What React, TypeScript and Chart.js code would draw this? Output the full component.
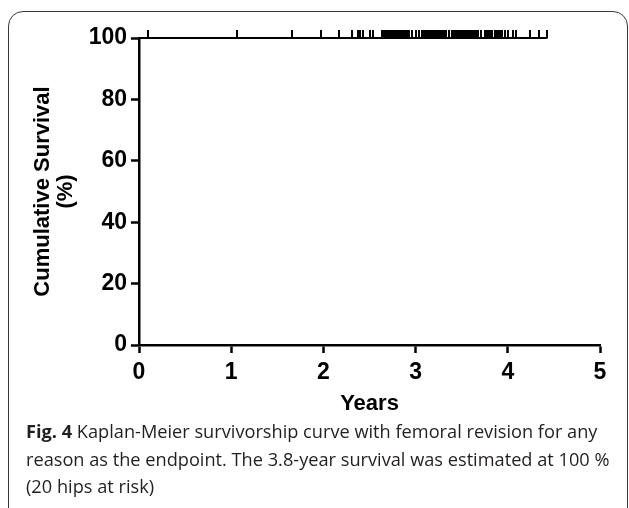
import React, { useEffect, useRef } from "react";
import { Chart, registerables } from "chart.js";

Chart.register(...registerables);

// Kaplan-Meier step: survival stays at 100 % until the last follow-up
const survivalYears = [0, 4.43];
const survivalPct = [100, 100];

// censored observations (tick marks on the curve), in years
const censorYears = [
  0.1, 1.06, 1.66, 1.97, 2.17, 2.31, 2.37, 2.4, 2.43, 2.5, 2.54,
  2.64, 2.66, 2.68, 2.7, 2.72, 2.74, 2.76, 2.78, 2.8, 2.82, 2.84, 2.86, 2.88, 2.91, 2.93, 2.96,
  3.0, 3.04, 3.07, 3.09, 3.11, 3.13, 3.15, 3.17, 3.19, 3.21, 3.23, 3.25, 3.27, 3.29, 3.31, 3.33,
  3.36, 3.39, 3.41, 3.43, 3.45, 3.47, 3.49, 3.51, 3.53, 3.55, 3.57, 3.59, 3.61, 3.63, 3.65, 3.68, 3.71,
  3.75, 3.77, 3.79, 3.81, 3.83, 3.86, 3.88, 3.9, 3.92, 3.94, 3.97, 4.0, 4.06, 4.09, 4.24, 4.34, 4.42,
];

const xMin = 0;
const xMax = 5;
const xStep = 1;
const yMin = 0;
const yMax = 100;
const yStep = 20;

const xTitle = "Years";
const yTitle = ["Cumulative Survival", "(%)"];

const FONT = "'Liberation Sans', Arial, Helvetica, sans-serif";

function makeCensorMark(): HTMLCanvasElement {
  const c = document.createElement("canvas");
  c.width = 2;
  c.height = 16;
  const g = c.getContext("2d")!;
  g.fillStyle = "#000";
  g.fillRect(0, 0, 2, 8);
  return c;
}

function KMChart() {
  const ref = useRef<HTMLCanvasElement | null>(null);

  useEffect(() => {
    if (!ref.current) return;
    const mark = makeCensorMark();
    const chart = new Chart(ref.current, {
      type: "line",
      data: {
        datasets: [
          {
            label: "Survival",
            data: survivalYears.map((x, i) => ({ x, y: survivalPct[i] })),
            borderColor: "#000",
            borderWidth: 2,
            stepped: true,
            pointRadius: 0,
            fill: false,
            clip: false as any,
          },
          {
            label: "Censored",
            type: "scatter",
            data: censorYears.map((x) => ({ x, y: 100 })),
            pointStyle: mark as any,
            pointRadius: 4,
            showLine: false,
            clip: false as any,
          } as any,
        ],
      },
      options: {
        responsive: false,
        animation: false,
        events: [],
        layout: { padding: { top: 38, right: 29, left: 0, bottom: 0 } },
        plugins: { legend: { display: false }, tooltip: { enabled: false } },
        scales: {
          x: {
            type: "linear",
            min: xMin,
            max: xMax,
            afterFit: (s: any) => {
              s.height = 75;
            },
            ticks: {
              stepSize: xStep,
              color: "#000",
              padding: 6,
              font: { family: FONT, size: 23, weight: "bold" },
            },
            grid: {
              drawOnChartArea: false,
              drawTicks: true,
              tickLength: 8,
              tickWidth: 2.5,
              tickColor: "#000",
            },
            border: { display: true, color: "#000", width: 2.5 },
            title: {
              display: true,
              text: xTitle,
              color: "#000",
              padding: { top: 0, bottom: 4.5 },
              font: { family: FONT, size: 22, weight: "bold", lineHeight: 1.05 },
            },
          },
          y: {
            type: "linear",
            min: yMin,
            max: yMax,
            afterFit: (s: any) => {
              s.width = 139;
            },
            ticks: {
              stepSize: yStep,
              color: "#000",
              padding: 4,
              font: { family: FONT, size: 23, weight: "bold" },
            },
            grid: {
              drawOnChartArea: false,
              drawTicks: true,
              tickLength: 8,
              tickWidth: 2.5,
              tickColor: "#000",
            },
            border: { display: true, color: "#000", width: 2.5 },
            title: {
              display: true,
              text: yTitle,
              color: "#000",
              padding: { top: 31.5, bottom: 0 },
              font: { family: FONT, size: 22, weight: "bold", lineHeight: 1.05 },
            },
          },
        },
      },
    });
    return () => chart.destroy();
  }, []);

  return (
    <canvas
      ref={ref}
      width={629}
      height={420}
      style={{ position: "absolute", left: 0, top: 0, width: 629, height: 420 }}
    />
  );
}

export default function App() {
  return (
    <div
      style={{
        position: "absolute",
        left: 0,
        top: 0,
        width: 629,
        height: 508,
        overflow: "hidden",
        background: "#fff",
      }}
    >
      <div
        style={{
          position: "absolute",
          left: 8,
          top: 11,
          width: 620,
          height: 520,
          boxSizing: "border-box",
          border: "1.5px solid #3a3a3a",
          borderRadius: 15,
        }}
      />
      <KMChart />
      <div
        style={{
          position: "absolute",
          left: 26,
          top: 418,
          width: 600,
          fontFamily: "'Open Sans', sans-serif",
          fontSize: 18.2,
          lineHeight: "27.5px",
          color: "#231f20",
          whiteSpace: "nowrap",
        }}
      >
        <b>Fig. 4</b> Kaplan-Meier survivorship curve with femoral revision for any
        <br />
        reason as the endpoint. The 3.8-year survival was estimated at 100 %
        <br />
        (20 hips at risk)
      </div>
    </div>
  );
}
